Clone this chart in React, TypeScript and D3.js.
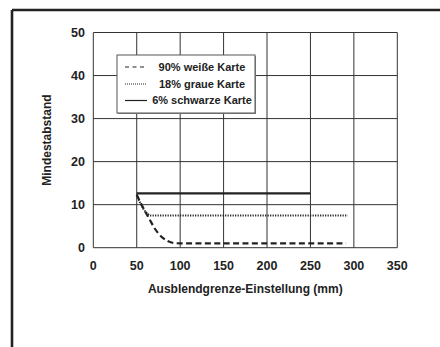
import React from "react";
import * as d3 from "d3";

const xTicks = [0, 50, 100, 150, 200, 250, 300, 350];
const yTicks = [0, 10, 20, 30, 40, 50];

const seriesNames = ["90% weiße Karte", "18% graue Karte", "6% schwarze Karte"];
const seriesDash = ["6,3.4", "1.2,1.3", ""];
const seriesWidth = [2.2, 2, 2.2];

const whiteX = [50, 55, 60, 65, 70, 75, 80, 85, 90, 95, 100, 291];
const whiteY = [12.3, 10.2, 8.3, 6.5, 4.7, 3.3, 2.3, 1.6, 1.2, 1.05, 1, 1];
const grayX = [50, 53, 56, 60, 63, 66, 293];
const grayY = [12.3, 10.8, 9.6, 8.4, 7.8, 7.5, 7.5];
const blackX = [50, 250];
const blackY = [12.6, 12.6];

const seriesX = [whiteX, grayX, blackX];
const seriesY = [whiteY, grayY, blackY];

const FONT = "'Liberation Sans Narrow', 'Arial Narrow', 'Liberation Sans', Arial, sans-serif";

export default function App() {
  const W = 440, H = 347;
  const x = d3.scaleLinear().domain([0, 350]).range([93.3, 397.3]);
  const y = d3.scaleLinear().domain([0, 50]).range([247.7, 32.5]);
  const line = d3.line<[number, number]>()
    .x((d) => x(d[0]))
    .y((d) => y(d[1]))
    .curve(d3.curveMonotoneX);

  const legendX = 117, legendY = 55, legendW = 138, legendH = 58;
  const rowY = [67, 84, 100.5];

  return (
    <div style={{ position: "fixed", left: 0, top: 0 }}>
      <svg width={W} height={H} style={{ display: "block", background: "#fff" }}>
        {/* frame */}
        <line x1={12} y1={10} x2={W} y2={10} stroke="#222" strokeWidth={2.6} />
        <line x1={12} y1={10} x2={12} y2={H} stroke="#222" strokeWidth={2.6} />

        {/* grid */}
        {xTicks.map((t) => (
          <line key={"gx" + t} x1={x(t)} x2={x(t)} y1={y(50)} y2={y(0)} stroke="#333" strokeWidth={1} />
        ))}
        {yTicks.map((t) => (
          <line key={"gy" + t} x1={x(0)} x2={x(350)} y1={y(t)} y2={y(t)} stroke="#333" strokeWidth={1} />
        ))}

        {/* tick labels */}
        {yTicks.map((t) => (
          <text key={"ty" + t} x={85} y={y(t)} dy="0.36em" textAnchor="end"
            fontFamily={FONT} fontWeight="bold" fontSize={12.5} fill="#222">{t}</text>
        ))}
        {xTicks.map((t) => (
          <text key={"tx" + t} x={x(t)} y={270} textAnchor="middle"
            fontFamily={FONT} fontWeight="bold" fontSize={12.5} fill="#222">{t}</text>
        ))}

        {/* axis titles */}
        <text x={(x(0) + x(350)) / 2} y={292.5} textAnchor="middle"
          fontFamily={FONT} fontWeight="bold" fontSize={12} fill="#222">Ausblendgrenze-Einstellung (mm)</text>
        <text transform={`translate(51, ${(y(0) + y(50)) / 2}) rotate(-90)`} textAnchor="middle"
          fontFamily={FONT} fontWeight="bold" fontSize={12} fill="#222">Mindestabstand</text>

        {/* series */}
        {seriesNames.map((n, i) => (
          <path key={"s" + i}
            d={line(seriesX[i].map((v, j) => [v, seriesY[i][j]] as [number, number])) || ""}
            fill="none" stroke="#222" strokeWidth={seriesWidth[i]}
            strokeDasharray={seriesDash[i] || undefined} />
        ))}

        {/* legend */}
        <rect x={legendX + 1} y={legendY + 1} width={legendW} height={legendH} fill="#888" />
        <rect x={legendX} y={legendY} width={legendW} height={legendH} fill="#fff" stroke="#555" strokeWidth={1} />
        {seriesNames.map((n, i) => (
          <g key={"l" + i}>
            <line x1={legendX + 8} x2={legendX + 30} y1={rowY[i]} y2={rowY[i]} stroke="#222"
              strokeWidth={i === 1 ? 1 : 1.2} strokeDasharray={i === 0 ? "4,3.5" : i === 1 ? "1,1" : undefined} />
            <text x={legendX + 85} y={rowY[i]} dy="0.36em" textAnchor="middle"
              fontFamily={FONT} fontWeight="bold" fontSize={11} fill="#222">{n}</text>
          </g>
        ))}
      </svg>
    </div>
  );
}
